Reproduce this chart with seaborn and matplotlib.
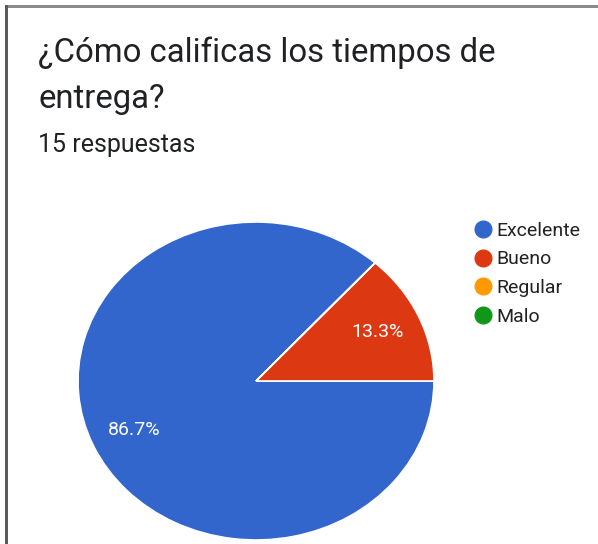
import matplotlib
matplotlib.use("Agg")
import matplotlib.pyplot as plt
from matplotlib.patches import Rectangle
from matplotlib.lines import Line2D
import seaborn as sns

# Survey results
categories = ["Excelente", "Bueno", "Regular", "Malo"]
counts = [13, 2, 0, 0]
colors = ["#3366CC", "#DC3912", "#FF9900", "#109618"]
title_lines = ["¿Cómo calificas los tiempos de", "entrega?"]
subtitle = "15 respuestas"

sns.set_theme(style="white")
plt.rcParams["font.family"] = ["Roboto", "DejaVu Sans"]

W, H = 598, 544
fig = plt.figure(figsize=(W / 100, H / 100), dpi=100)
fig.patch.set_facecolor("white")

def fx(px):
    return px / W

def fy(py):
    return 1 - py / H

# card border (top and left edges)
fig.patches.append(Rectangle((fx(5), fy(8)), fx(593), 3 / H, transform=fig.transFigure,
                             facecolor="#8a8a8a", edgecolor="none"))
fig.patches.append(Rectangle((fx(5), 0), 3 / W, fy(5), transform=fig.transFigure,
                             facecolor="#5a5a5a", edgecolor="none"))

# header text
fig.text(fx(38), fy(62), title_lines[0], fontsize=23.7, color="#202124", va="baseline")
fig.text(fx(38), fy(108), title_lines[1], fontsize=23.7, color="#202124", va="baseline")
fig.text(fx(38), fy(152), subtitle, fontsize=18, color="#202124", va="baseline")

# pie
ax = fig.add_axes([fx(78), fy(540), 356 / W, 318 / H])

def pct_label(p):
    return f"{p:.1f}%" if p > 0 else ""

wedges, texts, autotexts = ax.pie(
    counts, colors=colors, startangle=48, counterclock=True,
    autopct=pct_label, pctdistance=0.75,
    wedgeprops=dict(edgecolor="white", linewidth=1.2),
    textprops=dict(color="white", fontsize=14),
)
ax.set_aspect("auto")
ax.set_xlim(-1.0, 1.0)
ax.set_ylim(-1.0, 1.0)
ax.axis("off")

# legend
handles = [Line2D([0], [0], marker="o", linestyle="none", markersize=12,
                  markerfacecolor=c, markeredgecolor=c) for c in colors]
fig.legend(handles, categories, loc="upper left", bbox_to_anchor=(fx(464), fy(214)),
           frameon=False, fontsize=14, handletextpad=0.05, labelspacing=0.55,
           borderaxespad=0, handlelength=1.2, labelcolor="#222222")

fig.savefig("out.png", dpi=100, facecolor="white")
